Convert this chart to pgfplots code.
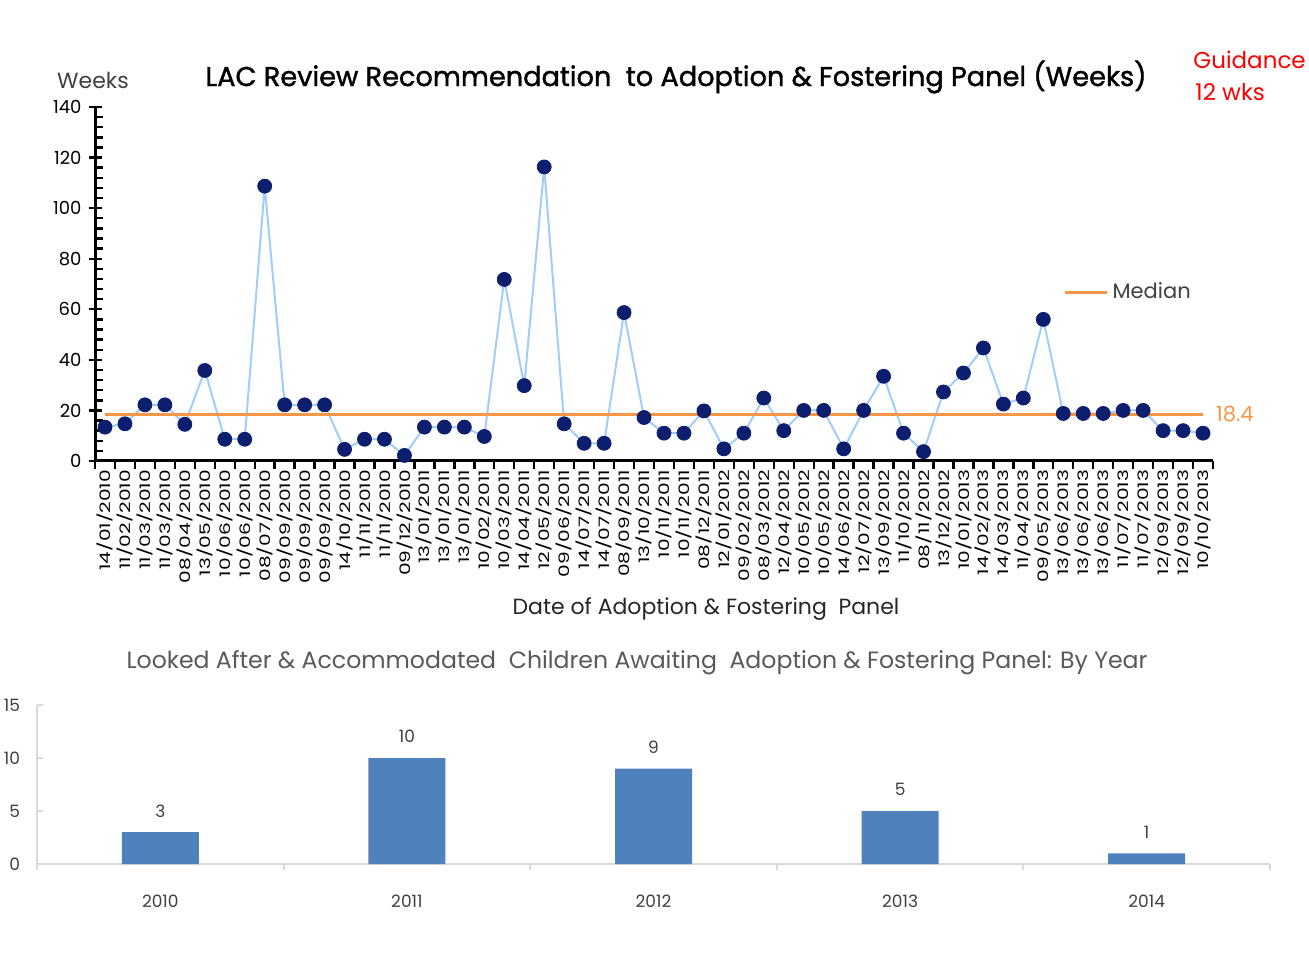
\documentclass[border=0pt]{standalone}
\usepackage{fontspec}
\setmainfont{Poppins}
\newfontfamily\titlefont{Poppins}[BoldFont={Poppins}, BoldFeatures={FakeBold=1.4}]
\newfontfamily\tickfont{Poppins}[FakeStretch=1.4]
\usepackage{pgfplots}
\pgfplotsset{compat=1.18}
\definecolor{navy}{RGB}{14,30,110}
\definecolor{lineblue}{RGB}{160,205,250}
\definecolor{medorange}{RGB}{247,150,70}
\definecolor{barblue}{RGB}{79,129,189}
\definecolor{axgray}{RGB}{217,217,217}
\definecolor{txtgray}{RGB}{64,64,64}
\definecolor{titlegray}{RGB}{89,89,89}
\pgfplotstableread{
x y
1 13.4
2 14.7
3 22.2
4 22.2
5 14.5
6 35.8
7 8.6
8 8.6
9 108.7
10 22.2
11 22.2
12 22.2
13 4.6
14 8.6
15 8.6
16 2.2
17 13.4
18 13.4
19 13.4
20 9.7
21 71.8
22 29.8
23 116.3
24 14.7
25 7.0
26 7.0
27 58.7
28 17.2
29 11.0
30 11.0
31 19.8
32 4.8
33 11.0
34 24.9
35 12.0
36 20.0
37 20.0
38 4.8
39 20.0
40 33.5
41 11.0
42 3.7
43 27.3
44 34.8
45 44.7
46 22.5
47 24.9
48 56.0
49 18.8
50 18.8
51 18.8
52 20.0
53 20.0
54 12.0
55 12.0
56 11.0
}\waittable
\begin{document}
\begin{tikzpicture}
\useasboundingbox (0,0) rectangle (654.5pt,476pt);
\begin{axis}[
  at={(47.5pt,245.5pt)}, anchor=south west,
  width=559pt, height=177pt, scale only axis,
  xmin=0.5, xmax=56.5, ymin=0, ymax=140,
  clip=false,
  axis lines=left,
  axis line style={line width=1.5pt, -},
  tick align=center,
  major tick length=6.5pt, minor tick length=4pt,
  every tick/.style={black, line width=1.2pt},
  ytick={0,20,...,140},
  minor y tick num=4,
  minor y tick style={xshift=2pt},
  xtick={1,...,56},
  major x tick style={draw=none},
  minor xtick={0.5,1.5,...,56.5},
  minor x tick style={yshift=-2pt},
  xticklabels={14/01/2010,11/02/2010,11/03/2010,11/03/2010,08/04/2010,13/05/2010,10/06/2010,10/06/2010,08/07/2010,09/09/2010,09/09/2010,09/09/2010,14/10/2010,11/11/2010,11/11/2010,09/12/2010,13/01/2011,13/01/2011,13/01/2011,10/02/2011,10/03/2011,14/04/2011,12/05/2011,09/06/2011,14/07/2011,14/07/2011,08/09/2011,13/10/2011,10/11/2011,10/11/2011,08/12/2011,12/01/2012,09/02/2012,08/03/2012,12/04/2012,10/05/2012,10/05/2012,14/06/2012,12/07/2012,13/09/2012,11/10/2012,08/11/2012,13/12/2012,10/01/2013,14/02/2013,14/03/2013,11/04/2013,09/05/2013,13/06/2013,13/06/2013,13/06/2013,11/07/2013,11/07/2013,12/09/2013,12/09/2013,10/10/2013},
  xticklabel style={rotate=90, anchor=east, font=\tickfont\fontsize{7.2}{8}\selectfont, inner sep=1pt},
  yticklabel style={font=\fontsize{9}{10}\selectfont},
  /pgf/number format/assume math mode=true,
  legend style={at={(0.866,0.477)}, anchor=west, draw=none, fill=none, inner sep=0pt,
    font=\fontsize{10.5}{12}\selectfont, text=txtgray},
  legend image code/.code={\draw[#1] (0pt,0pt) -- (21pt,0pt);},
]
\addplot[lineblue, line width=1pt, mark=*, mark size=3.5pt,
  mark options={fill=navy, draw=navy, line width=0.4pt}, forget plot] table[x=x, y=y] {\waittable};
\addplot[medorange, line width=1.5pt] coordinates {(1,18.4) (56,18.4)};
\addlegendentry{Median}
\node[anchor=west, text=medorange, font=\fontsize{10.5}{12}\selectfont, xshift=3pt] at (axis cs:56,18.4) {18.4};
\end{axis}

\begin{axis}[
  at={(18.5pt,44pt)}, anchor=south west,
  width=616.5pt, height=79.5pt, scale only axis,
  xmin=-0.5, xmax=4.5, ymin=0, ymax=15,
  axis lines=left,
  axis line style={axgray, line width=1.4pt, -},
  tick align=inside,
  major tick length=3pt, minor tick length=3pt,
  every tick/.style={axgray, line width=1pt},
  ytick={0,5,10,15},
  xtick={0,...,4},
  xticklabels={2010,2011,2012,2013,2014},
  major x tick style={draw=none},
  minor xtick={-0.5,0.5,...,4.5},
  /pgf/number format/assume math mode=true,
  xticklabel style={font=\fontsize{8.5}{9}\selectfont, text=txtgray, yshift=-9pt},
  yticklabel style={font=\fontsize{8.5}{9}\selectfont, text=txtgray, xshift=-5pt},
  ybar, bar width=38.5pt,
  nodes near coords,
  every node near coord/.append style={font=\fontsize{8.5}{9}\selectfont, text=txtgray, yshift=4pt},
]
\addplot[fill=barblue, draw=none] coordinates {(0,3) (1,10) (2,9) (3,5) (4,1)};
\end{axis}

\node[font=\fontsize{11}{12}\selectfont, text=txtgray] at (46.5pt,436pt) {Weeks};
\node[font=\titlefont\bfseries\fontsize{13.6}{15}\selectfont] at (338pt,437.5pt) {LAC Review Recommendation\ \ to Adoption \& Fostering Panel (Weeks)};
\node[anchor=west, font=\fontsize{11.5}{13}\selectfont, text=red, inner sep=0pt] at (596.5pt,446pt) {Guidance};
\node[anchor=west, font=\fontsize{11.5}{13}\selectfont, text=red, inner sep=0pt] at (597.5pt,430pt) {12 wks};
\node[font=\fontsize{11}{12}\selectfont, text=black!85] at (353pt,171.5pt) {Date of Adoption \& Fostering\ \ Panel};
\node[font=\fontsize{11.8}{13}\selectfont, text=titlegray] at (318.5pt,144.5pt) {Looked After \& Accommodated\ \ Children Awaiting\ \ Adoption \& Fostering Panel: By Year};
\end{tikzpicture}
\end{document}
